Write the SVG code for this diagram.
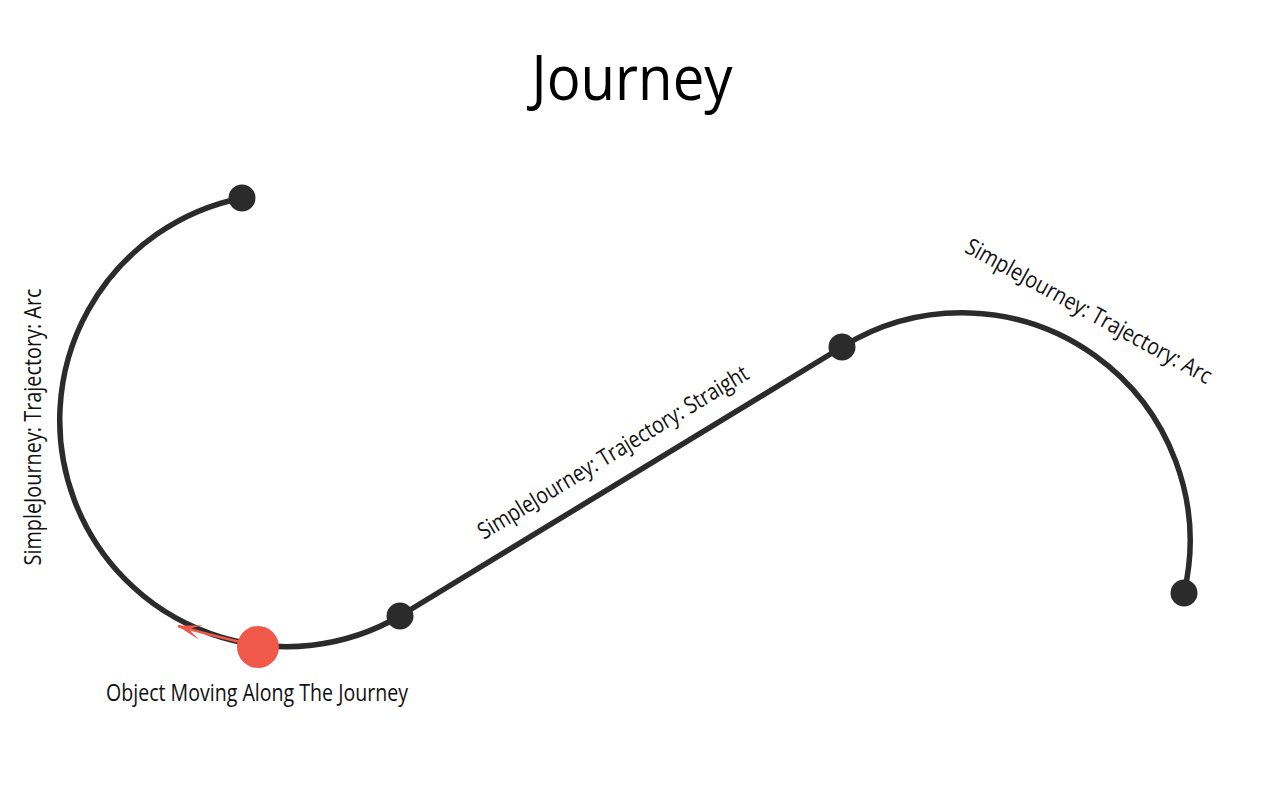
<svg xmlns="http://www.w3.org/2000/svg" width="1280" height="800" viewBox="0 0 1280 800">
  <style>
    .track { fill: none; stroke: #2b2b2b; stroke-width: 5.5; }
    .pt { fill: #2b2b2b; }
    .lbl { font-family: "Open Sans", "Liberation Sans", sans-serif; font-weight: 400; fill: #111; }
    .title { font-family: "Open Sans", "Liberation Sans", sans-serif; font-weight: 400; fill: #000; }
  </style>
  <defs>
    <marker id="arrow" markerUnits="userSpaceOnUse" markerWidth="26" markerHeight="18" viewBox="0 0 26 18" refX="24" refY="9" orient="auto">
      <path d="M0,1.5 L25,9 L0,16.5 L13,9 Z" fill="#f0584a"/>
    </marker>
  </defs>
  <rect width="1280" height="800" fill="#ffffff"/>

  <text class="title" x="632" y="100" font-size="62" text-anchor="middle" textLength="201" lengthAdjust="spacingAndGlyphs">Journey</text>

  <g id="connectors">
    <path id="arc-left" class="track" d="M 242 198 A 226.5 226.5 0 1 0 400 616"/>
    <path id="straight" class="track" d="M 400 616 L 842 347"/>
    <path id="arc-right" class="track" d="M 842 347 A 228 228 0 0 1 1184 593"/>
    <path id="motion-arrow" d="M 240 642 Q 210 635 178 626" fill="none" stroke="#f0584a" stroke-width="2.5" marker-end="url(#arrow)"/>
  </g>

  <g id="node-start"><circle class="pt" cx="242" cy="198" r="13.5"/></g>
  <g id="node-a"><circle class="pt" cx="400" cy="616" r="13.5"/></g>
  <g id="node-b"><circle class="pt" cx="842" cy="347" r="13.5"/></g>
  <g id="node-end"><circle class="pt" cx="1184" cy="593" r="13.5"/></g>
  <g id="moving-object"><circle cx="258" cy="647" r="21" fill="#f0584a"/></g>

  <g id="labels">
    <text class="lbl" font-size="23" text-anchor="middle" transform="translate(41 427) rotate(-90)" textLength="277" lengthAdjust="spacingAndGlyphs">SimpleJourney: Trajectory: Arc</text>
    <text class="lbl" font-size="23" text-anchor="middle" transform="translate(617 459) rotate(-31.3)" textLength="312" lengthAdjust="spacingAndGlyphs">SimpleJourney: Trajectory: Straight</text>
    <text class="lbl" font-size="23" text-anchor="middle" transform="translate(1085 318) rotate(28.7)" textLength="277" lengthAdjust="spacingAndGlyphs">SimpleJourney: Trajectory: Arc</text>
    <text class="lbl" font-size="23" x="257" y="701" text-anchor="middle" textLength="302" lengthAdjust="spacingAndGlyphs">Object Moving Along The Journey</text>
  </g>
</svg>
